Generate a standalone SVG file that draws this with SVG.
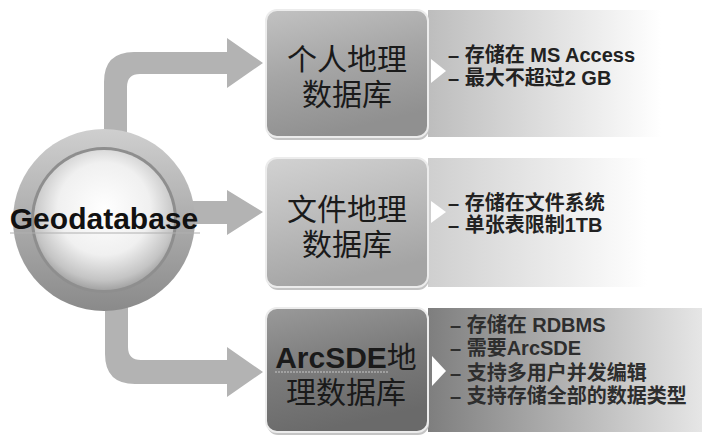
<svg xmlns="http://www.w3.org/2000/svg" width="702" height="436" viewBox="0 0 702 436">
<defs>
<style>
.arrow{fill:#b3b3b3}
.box{stroke:#ececec;stroke-width:2}
.shadow{fill:#c4c4c4}
.tri{fill:#ffffff}
.cjk{font-family:"Noto Sans CJK SC","Noto Sans CJK TC",sans-serif;font-size:30px;fill:#1a1a1a;text-anchor:middle}
.bul{font-family:"Liberation Sans","Noto Sans CJK SC",sans-serif;font-size:20px;font-weight:bold;fill:#222}
.bul3{font-family:"Liberation Sans","Noto Sans CJK SC",sans-serif;font-size:20px;font-weight:bold;fill:#2e2e2e}
.geo{font-family:"Liberation Sans",Arial,sans-serif;font-size:30px;font-weight:bold;fill:#111;text-anchor:middle}
</style>
<linearGradient id="g1" x1="0" y1="0" x2="0.3" y2="1">
<stop offset="0" stop-color="#c2c2c2"/><stop offset="0.5" stop-color="#a6a6a6"/><stop offset="1" stop-color="#909090"/>
</linearGradient>
<linearGradient id="g2" x1="0" y1="0" x2="0.3" y2="1">
<stop offset="0" stop-color="#d2d2d2"/><stop offset="0.5" stop-color="#bcbcbc"/><stop offset="1" stop-color="#a4a4a4"/>
</linearGradient>
<linearGradient id="g3" x1="0" y1="0" x2="0.3" y2="1">
<stop offset="0" stop-color="#9a9a9a"/><stop offset="0.5" stop-color="#7c7c7c"/><stop offset="1" stop-color="#6a6a6a"/>
</linearGradient>
<linearGradient id="p1" x1="0" y1="0" x2="1" y2="0">
<stop offset="0" stop-color="#bdbdbd"/><stop offset="0.85" stop-color="#ffffff"/>
</linearGradient>
<linearGradient id="p2" x1="0" y1="0" x2="1" y2="0">
<stop offset="0" stop-color="#cfcfcf"/><stop offset="0.8" stop-color="#ffffff"/>
</linearGradient>
<linearGradient id="p3" x1="0" y1="0" x2="1" y2="0">
<stop offset="0" stop-color="#7e7e7e"/><stop offset="1" stop-color="#e6e6e6"/>
</linearGradient>
<linearGradient id="ring" x1="0" y1="0" x2="0" y2="1">
<stop offset="0" stop-color="#cfcfcf"/><stop offset="1" stop-color="#8a8a8a"/>
</linearGradient>
<radialGradient id="sphere" cx="0.5" cy="0.42" r="0.6">
<stop offset="0" stop-color="#ffffff"/><stop offset="0.55" stop-color="#f0f0f0"/><stop offset="0.85" stop-color="#c4c4c4"/><stop offset="1" stop-color="#9a9a9a"/>
</radialGradient>
</defs>
<rect width="702" height="436" fill="#ffffff"/>
<g id="panels">
<rect x="428" y="10" width="274" height="127" fill="url(#p1)"/>
<rect x="428" y="158" width="274" height="129" fill="url(#p2)"/>
<rect x="428" y="308" width="274" height="124" fill="url(#p3)"/>
</g>
<g id="connectors">
<path class="arrow" d="M104,140 L104,82 Q104,52 134,52 L227,52 L227,38 L263,63 L227,88 L227,74 L140,74 Q127,74 127,87 L127,140 Z"/>
<path class="arrow" d="M180,201 L227,201 L227,190 L263,212 L227,235 L227,224 L180,224 Z"/>
<path class="arrow" d="M105,300 L105,354 Q105,384 135,384 L227,384 L227,397 L263,372 L227,347 L227,360 L141,360 Q128,360 128,347 L128,300 Z"/>
</g>
<g id="geodatabase">
<circle cx="104" cy="220" r="91" fill="url(#ring)"/>
<circle cx="104" cy="220" r="73" fill="#8e8e8e"/>
<circle cx="104" cy="220" r="70" fill="url(#sphere)"/>
<line x1="10" y1="233" x2="200" y2="233" stroke="#b0b0b0" stroke-width="1"/>
<text class="geo" x="104" y="229">Geodatabase</text>
</g>
<g id="personal">
<rect class="shadow" x="267" y="12" width="162" height="128" rx="11"/>
<rect class="box" x="266" y="10" width="162" height="127" rx="11" fill="url(#g1)"/>
<text class="cjk" x="347" y="70"><tspan x="347">个人地理</tspan><tspan x="347" dy="35">数据库</tspan></text>
<polygon class="tri" points="431,59 446,71 431,83"/>
<text class="bul" x="448" y="62">– 存储在 MS Access</text>
<text class="bul" x="448" y="85">– 最大不超过2 GB</text>
</g>
<g id="file">
<rect class="shadow" x="267" y="160" width="162" height="130" rx="11"/>
<rect class="box" x="266" y="158" width="162" height="129" rx="11" fill="url(#g2)"/>
<text class="cjk" x="347" y="220"><tspan x="347">文件地理</tspan><tspan x="347" dy="35">数据库</tspan></text>
<polygon class="tri" points="431,201 446,212 431,223"/>
<text class="bul" x="448" y="210">– 存储在文件系统</text>
<text class="bul" x="448" y="232">– 单张表限制1TB</text>
</g>
<g id="arcsde">
<rect class="shadow" x="267" y="310" width="162" height="125" rx="11"/>
<rect class="box" x="266" y="308" width="162" height="124" rx="11" fill="url(#g3)"/>
<text class="cjk" x="346" y="368"><tspan font-family="'Liberation Sans',Arial,sans-serif" font-weight="bold">ArcSDE</tspan>地<tspan x="346" dy="35">理数据库</tspan></text>
<line x1="275" y1="372" x2="388" y2="372" stroke="#c8c8c8" stroke-width="1" stroke-dasharray="2,1"/>
<polygon class="tri" points="432,356 446,371 432,386"/>
<text class="bul3" x="450" y="332">– 存储在 RDBMS</text>
<text class="bul3" x="450" y="355">– 需要ArcSDE</text>
<text class="bul3" x="450" y="380">– 支持多用户并发编辑</text>
<text class="bul3" x="450" y="403">– 支持存储全部的数据类型</text>
</g>
</svg>
